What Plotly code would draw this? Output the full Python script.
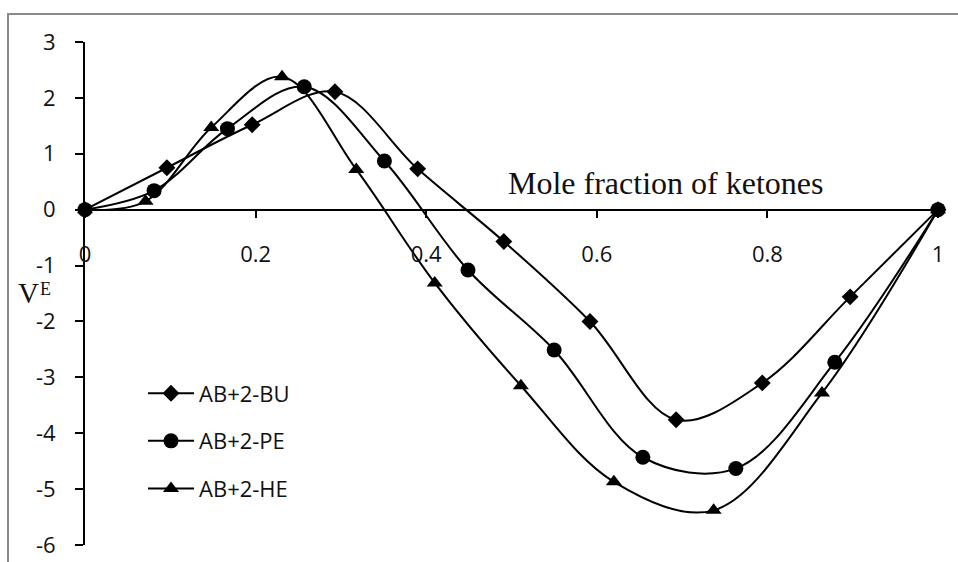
import plotly.graph_objects as go

# ---- data ----
bu_x = [0, 0.096, 0.196, 0.293, 0.390, 0.491, 0.592, 0.693, 0.794, 0.897, 1.0]
bu_y = [0, 0.75, 1.52, 2.11, 0.73, -0.57, -2.00, -3.76, -3.10, -1.56, 0]

pe_x = [0, 0.081, 0.167, 0.257, 0.351, 0.449, 0.550, 0.654, 0.763, 0.879, 1.0]
pe_y = [0, 0.34, 1.45, 2.20, 0.87, -1.08, -2.51, -4.43, -4.63, -2.73, 0]

he_x = [0, 0.071, 0.148, 0.231, 0.318, 0.410, 0.511, 0.620, 0.737, 0.864, 1.0]
he_y = [0, 0.15, 1.47, 2.38, 0.72, -1.31, -3.15, -4.87, -5.38, -3.28, 0]

series_names = ["AB+2-BU", "AB+2-PE", "AB+2-HE"]
x_ticks = [0, 0.2, 0.4, 0.6, 0.8, 1.0]
x_tick_text = ["0", "0.2", "0.4", "0.6", "0.8", "1"]
y_ticks = [3, 2, 1, 0, -1, -2, -3, -4, -5, -6]
y_tick_text = ["3", "2", "1", "0", "-1", "-2", "-3", "-4", "-5", "-6"]

W, H = 958, 562
ML, MR, MT, MB = 85, 20, 42, 17
y_min, y_max = -6, 3

tick_font = dict(family="Open Sans", size=22, color="#111111")

fig = go.Figure()
specs = [
    (bu_x, bu_y, "diamond", 13),
    (pe_x, pe_y, "circle", 15),
    (he_x, he_y, "triangle-up", 14),
]
for (xs, ys, sym, sz), name in zip(specs, series_names):
    fig.add_trace(go.Scatter(
        x=xs, y=ys, name=name, mode="lines+markers",
        line=dict(color="black", width=2, shape="spline", smoothing=1.0),
        marker=dict(symbol=sym, size=sz, color="black"),
        cliponaxis=False, legendgroup=name,
    ))

x0_frac = (0 - y_min) / (y_max - y_min)

fig.update_layout(
    template="none",
    width=W, height=H,
    margin=dict(l=ML, r=MR, t=MT, b=MB, autoexpand=False),
    paper_bgcolor="white", plot_bgcolor="white",
    showlegend=True,
    legend=dict(
        x=0.068, y=0.343, xanchor="left", yanchor="top",
        font=dict(family="Open Sans", size=22, color="#111111"),
        tracegroupgap=16, itemwidth=46, bgcolor="rgba(0,0,0,0)",
        borderwidth=0,
    ),
    xaxis=dict(
        range=[0, 1], anchor="free", position=x0_frac, automargin=False,
        showgrid=False, zeroline=False,
        showline=True, linecolor="black", linewidth=2,
        ticks="outside", ticklen=7, tickwidth=2, tickcolor="black",
        tickvals=x_ticks, ticktext=x_tick_text, tickfont=tick_font,
        ticklabelstandoff=18,
    ),
    yaxis=dict(
        range=[y_min, y_max], automargin=False,
        showgrid=False, zeroline=False,
        showline=True, linecolor="black", linewidth=2,
        ticks="outside", ticklen=8, tickwidth=2, tickcolor="black",
        tickvals=y_ticks, ticktext=y_tick_text, tickfont=tick_font,
        ticklabelstandoff=15,
    ),
)

# outer chart border (cropped at right and bottom)
plot_w = W - ML - MR
plot_h = H - MT - MB
def px_to_paper_x(px):
    return (px - ML) / plot_w
def py_to_paper_y(py):
    return (H - MB - py) / plot_h

fig.add_shape(type="rect", xref="paper", yref="paper",
              x0=px_to_paper_x(8), x1=px_to_paper_x(990),
              y0=py_to_paper_y(600), y1=py_to_paper_y(14),
              line=dict(color="#8a8a8a", width=2), fillcolor="rgba(0,0,0,0)",
              layer="below")

fig.add_annotation(text="Mole fraction of ketones", xref="paper", yref="paper",
                   x=px_to_paper_x(665), y=py_to_paper_y(183),
                   showarrow=False, xanchor="center", yanchor="middle",
                   font=dict(family="Liberation Serif", size=32, color="#111111"))
fig.add_annotation(text="V", xref="paper", yref="paper",
                   x=px_to_paper_x(16), y=py_to_paper_y(293),
                   showarrow=False, xanchor="left", yanchor="middle",
                   font=dict(family="Liberation Serif", size=29, color="#111111"))
fig.add_annotation(text="E", xref="paper", yref="paper",
                   x=px_to_paper_x(38), y=py_to_paper_y(289),
                   showarrow=False, xanchor="left", yanchor="middle",
                   font=dict(family="Liberation Serif", size=18, color="#111111"))

fig.write_html("out.html")
